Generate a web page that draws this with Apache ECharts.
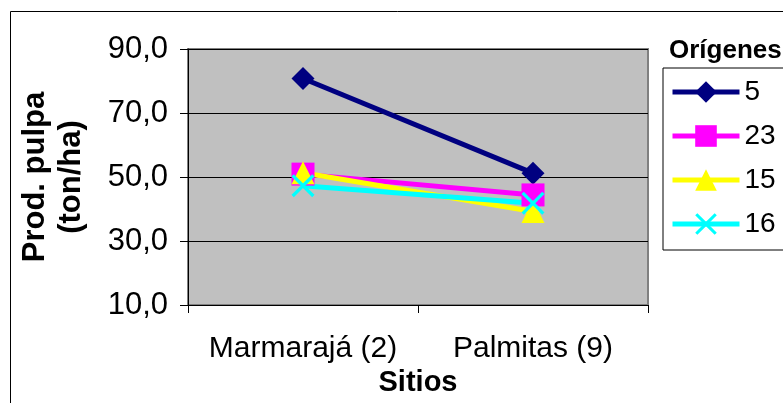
<!DOCTYPE html>
<html>
<head>
<meta charset="utf-8">
<script src="https://cdn.jsdelivr.net/npm/echarts@6/dist/echarts.min.js"></script>
<style>
  html, body { margin: 0; padding: 0; background: #fff; }
  #chart { width: 783px; height: 403px; }
</style>
</head>
<body>
<div id="chart"></div>
<script>
  // sitios (categorías del eje x)
  const sitios = ['Marmarajá (2)', 'Palmitas (9)']
  // producción de pulpa por origen (ton/ha)
  const origen5 = [80.8, 51.2]
  const origen23 = [50.9, 44.4]
  const origen15 = [51.3, 39.2]
  const origen16 = [47.3, 41.8]
  const yMin = 10
  const yMax = 90
  const yStep = 20

  const font = 'Liberation Sans, Arial, sans-serif'
  // símbolo "x" del origen 16
  const xSymbol = 'path://M0,1L1,0L5,4L9,0L10,1L6,5L10,9L9,10L5,6L1,10L0,9L4,5Z'

  const chart = echarts.init(document.getElementById('chart'), null, { renderer: 'canvas' })

  function serie(name, data, color, symbol) {
    return {
      name: name,
      type: 'line',
      data: data,
      symbol: symbol,
      symbolSize: 23,
      color: color,
      lineStyle: { color: color, width: 5 },
      itemStyle: { color: color },
      emphasis: { disabled: true },
      animation: false
    }
  }

  const option = {
    animation: false,
    textStyle: { fontFamily: font, color: '#000' },
    title: {
      text: 'Orígenes',
      left: 664,
      top: 33,
      textStyle: { fontFamily: font, fontSize: 26, fontWeight: 'bold', color: '#000' }
    },
    legend: {
      orient: 'vertical',
      left: 663,
      top: 68,
      padding: [10, 40, 12, 7],
      borderColor: '#000',
      borderWidth: 1,
      itemWidth: 67,
      itemHeight: 27,
      itemGap: 16,
      lineStyle: { width: 5 },
      textStyle: { fontFamily: font, fontSize: 28, color: '#000' },
      data: ['5', '23', '15', '16']
    },
    grid: {
      left: 188,
      top: 49,
      width: 460,
      height: 256,
      show: true,
      backgroundColor: '#C0C0C0',
      borderColor: '#808080',
      borderWidth: 2
    },
    xAxis: {
      type: 'category',
      data: sitios,
      boundaryGap: true,
      name: 'Sitios',
      nameLocation: 'middle',
      nameGap: 58,
      nameTextStyle: { fontFamily: font, fontSize: 29, fontWeight: 'bold', color: '#000' },
      axisLine: { lineStyle: { color: '#000', width: 1 } },
      axisTick: { show: true, length: 8, lineStyle: { color: '#000' } },
      axisLabel: { fontFamily: font, fontSize: 30, color: '#000', margin: 29, interval: 0, hideOverlap: false },
      splitLine: { show: false }
    },
    yAxis: {
      type: 'value',
      min: yMin,
      max: yMax,
      interval: yStep,
      name: 'Prod. pulpa\n(ton/ha)',
      nameLocation: 'middle',
      nameGap: 99,
      nameRotate: 90,
      nameTextStyle: { fontFamily: font, fontSize: 31, fontWeight: 'bold', color: '#000', lineHeight: 36 },
      axisLine: { show: true, lineStyle: { color: '#000', width: 1 } },
      axisTick: { show: true, length: 8, lineStyle: { color: '#000' } },
      axisLabel: {
        fontFamily: font,
        fontSize: 31,
        color: '#000',
        margin: 20,
        formatter: v => v.toFixed(1).replace('.', ',')
      },
      splitLine: { show: true, lineStyle: { color: '#000', width: 1 } }
    },
    graphic: [
      {
        type: 'rect',
        left: 8,
        top: 9,
        z: -10,
        shape: { width: 820, height: 420 },
        style: { fill: 'none', stroke: '#000', lineWidth: 1 }
      }
    ],
    series: [
      serie('5', origen5, '#000080', 'diamond'),
      serie('23', origen23, '#FF00FF', 'rect'),
      serie('15', origen15, '#FFFF00', 'triangle'),
      serie('16', origen16, '#00FFFF', xSymbol)
    ]
  }

  chart.setOption(option)
</script>
</body>
</html>
